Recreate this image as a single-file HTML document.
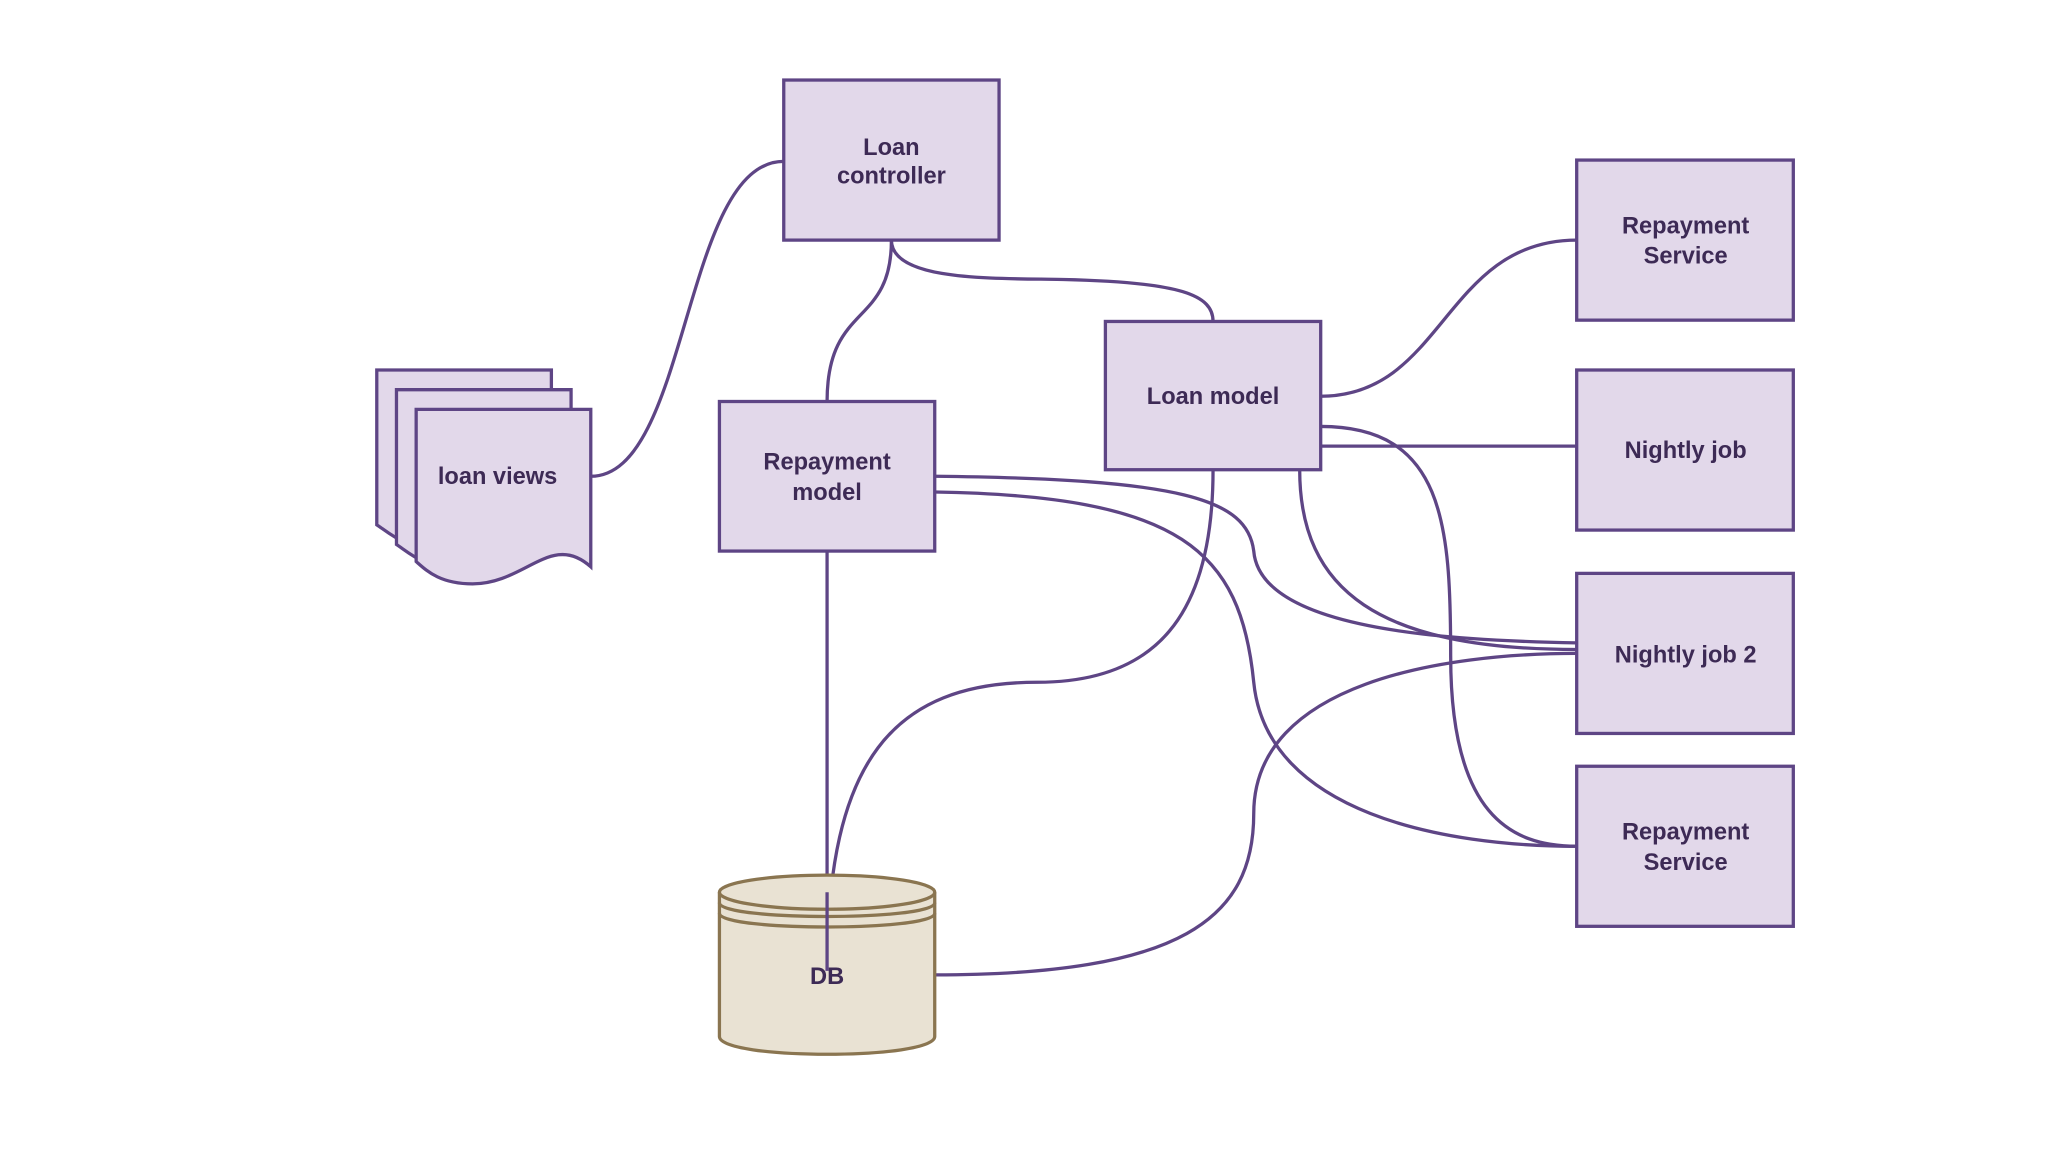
<!DOCTYPE html>
<html><head><meta charset="utf-8"><style>
html,body{margin:0;padding:0;background:#fff;width:2048px;height:1152px;overflow:hidden}
svg{display:block}
text{font-family:"Liberation Sans",sans-serif;font-weight:bold;font-size:18px;fill:#3d2a55;text-anchor:middle}
</style></head><body>
<svg width="2048" height="1152" viewBox="0 0 1560 878" preserveAspectRatio="none" xmlns="http://www.w3.org/2000/svg">
<g fill="none" stroke="#5e4585" stroke-width="2.5">
<path d="M450,363 C525,363 520,123 597,123"/>
<path d="M679,183 C679,250 630,230 630,306"/>
<path d="M679,183 C679,215 760,212 810,213 C900,215 924,225 924,245"/>
<path d="M1006,302 C1100,302 1100,183 1201,183"/>
<path d="M1006,340 L1201,340"/>
<path d="M1006,325 C1100,325 1105,400 1105,500 C1105,620 1150,645 1201,645"/>
<path d="M990,358 C990,450 1050,495 1201,495"/>
<path d="M924,358 C924,470 880,520 790,520 C680,520 630,580 630,740"/>
<path d="M630,420 L630,740"/>
<path d="M712,363 C900,365 950,380 955,420 C960,480 1100,488 1201,490"/>
<path d="M712,375 C900,378 945,420 955,520 C965,620 1100,645 1201,645"/>
<path d="M712,743 C900,743 955,700 955,620 C955,520 1100,498 1201,498"/>
</g>
<g fill="#e2d8ea" stroke="#5e4585" stroke-width="2.5">
<rect x="597" y="61" width="164" height="122"/>
<rect x="1201" y="122" width="165" height="122"/>
<rect x="842" y="245" width="164" height="113"/>
<rect x="1201" y="282" width="165" height="122"/>
<rect x="548" y="306" width="164" height="114"/>
<rect x="1201" y="437" width="165" height="122"/>
<rect x="1201" y="584" width="165" height="122"/>
<path d="M287,282 H420 V400 C390,390 370,420 340,420 C310,420 295,405 287,400 Z"/>
<path d="M302,297 H435 V415 C405,405 385,435 355,435 C325,435 310,420 302,415 Z"/>
<path d="M317,312 H450 V432 C420,405 400,445 360,445 C335,445 325,435 317,428 Z"/>
</g>
<g stroke="#8a7550" stroke-width="2.5" fill="#e9e2d3">
<path d="M548,680 V790 C548,808 712,808 712,790 V680"/>
<ellipse cx="630" cy="680" rx="82" ry="13"/>
<path d="M548,688 C548,702 712,702 712,688" fill="none"/>
<path d="M548,696 C548,710 712,710 712,696" fill="none"/>
</g>
<path d="M630,680 L630,740" stroke="#5e4585" stroke-width="2.5"/>
<text x="679" y="118">Loan</text>
<text x="679" y="140">controller</text>
<text x="1284" y="178">Repayment</text>
<text x="1284" y="201">Service</text>
<text x="924" y="308">Loan model</text>
<text x="1284" y="349">Nightly job</text>
<text x="630" y="358">Repayment</text>
<text x="630" y="381">model</text>
<text x="1284" y="505">Nightly job 2</text>
<text x="1284" y="640">Repayment</text>
<text x="1284" y="663">Service</text>
<text x="379" y="369">loan views</text>
<text x="630" y="750">DB</text>
</svg>
</body></html>
